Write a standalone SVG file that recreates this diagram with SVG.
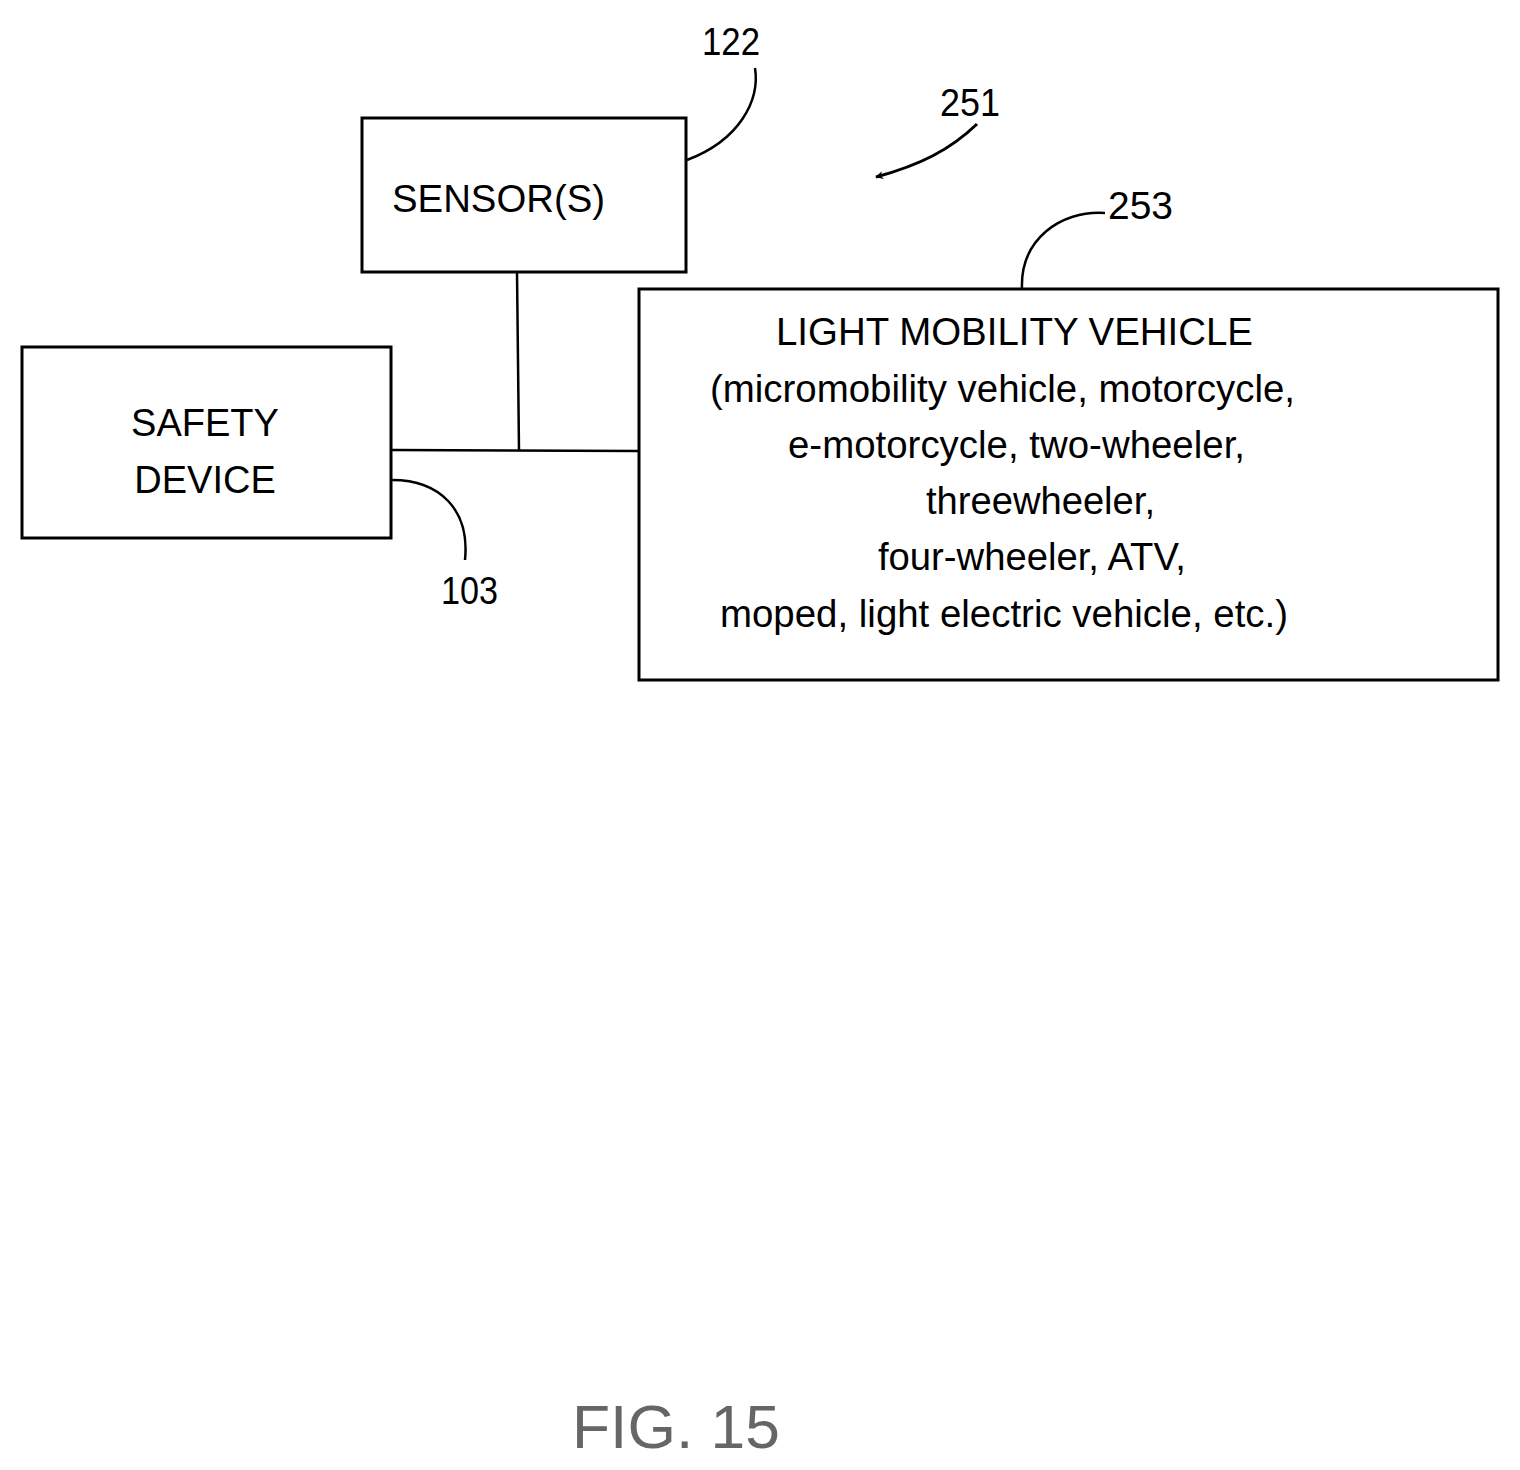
<svg xmlns="http://www.w3.org/2000/svg" width="1520" height="1470" viewBox="0 0 1520 1470">
<style>
.box{fill:#fff;stroke:#000;stroke-width:3}
.ln{fill:none;stroke:#000;stroke-width:2.5}
text{font-family:"Liberation Sans",Arial,sans-serif;font-size:38px;fill:#000}
</style>
<defs><marker id="ah" viewBox="0 0 10 10" refX="9" refY="5" markerWidth="8" markerHeight="8" markerUnits="userSpaceOnUse" orient="auto"><path d="M0,0 L10,5 L0,10 L3,5 z" fill="#000"/></marker></defs>
<rect width="1520" height="1470" fill="#fff"/>
<g id="connectors">
<path class="ln" d="M392,450 L638,451"/>
<path class="ln" d="M517,272 L519,451"/>
<path class="ln" d="M687,160 C740,140 760,100 755,68"/>
<path class="ln" d="M1022,289 C1020,240 1060,210 1105,213"/>
<path class="ln" d="M392,480 C440,480 470,510 465,560"/>
<path d="M977,124 C950,150 920,165 876,177" fill="none" stroke="#000" stroke-width="3" marker-end="url(#ah)"/>
</g>
<g id="sensors"><rect class="box" x="362" y="118" width="324" height="154"/><text x="392" y="212" textLength="213" lengthAdjust="spacingAndGlyphs">SENSOR(S)</text></g>
<g id="safety"><rect class="box" x="22" y="347" width="369" height="191"/>
<text x="205" y="436" text-anchor="middle">SAFETY</text><text x="205" y="493" text-anchor="middle">DEVICE</text></g>
<g id="lmv"><rect class="box" x="639" y="289" width="859" height="391"/>
<text x="776" y="345" textLength="477" lengthAdjust="spacingAndGlyphs">LIGHT MOBILITY VEHICLE</text>
<text x="710" y="402" textLength="585" lengthAdjust="spacingAndGlyphs">(micromobility vehicle, motorcycle,</text>
<text x="788" y="458" textLength="457" lengthAdjust="spacingAndGlyphs">e-motorcycle, two-wheeler,</text>
<text x="926" y="514" textLength="229" lengthAdjust="spacingAndGlyphs">threewheeler,</text>
<text x="878" y="570" textLength="308" lengthAdjust="spacingAndGlyphs">four-wheeler, ATV,</text>
<text x="720" y="627" textLength="568" lengthAdjust="spacingAndGlyphs">moped, light electric vehicle, etc.)</text></g>
<g id="labels">
<text x="702" y="55" textLength="58" lengthAdjust="spacingAndGlyphs">122</text>
<text x="940" y="116" textLength="60" lengthAdjust="spacingAndGlyphs">251</text>
<text x="1108" y="219" textLength="65" lengthAdjust="spacingAndGlyphs">253</text>
<text x="441" y="604" textLength="57" lengthAdjust="spacingAndGlyphs">103</text>
<text x="572" y="1448" style="font-size:62px;fill:#666" textLength="208" lengthAdjust="spacingAndGlyphs">FIG. 15</text>
</g>
</svg>
